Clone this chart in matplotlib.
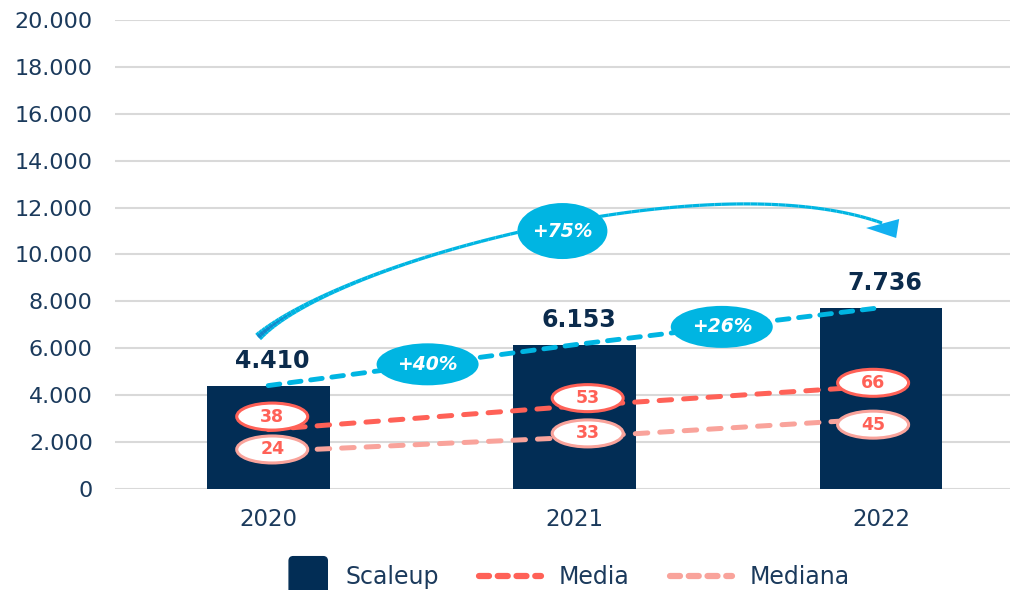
import numpy as np
import matplotlib
matplotlib.use('Agg')
import matplotlib.pyplot as plt
from matplotlib import transforms
from matplotlib.patches import Ellipse, Polygon, FancyBboxPatch, Rectangle
from matplotlib.collections import LineCollection
from matplotlib.lines import Line2D
from matplotlib.legend_handler import HandlerPatch

years = ['2020', '2021', '2022']
scaleup = [4410, 6153, 7736]
media = [38, 53, 66]
mediana = [24, 33, 45]
growth = ['+40%', '+26%']
growth_total = '+75%'
yticks = [0, 2000, 4000, 6000, 8000, 10000, 12000, 14000, 16000, 18000, 20000]

navy = '#022d55'
txt_navy = '#1b3a5c'
blue = '#00b5e2'
red = '#ff6157'
pink = '#f9a39b'

plt.rcParams['font.family'] = ['DejaVu Sans']

fig = plt.figure(figsize=(10.25, 5.9), dpi=100)
ax = fig.add_axes([0.1122, 0.1712, 0.873, 0.7949])
ax2 = ax.twinx()

x = np.arange(len(years))

ax.bar(x, scaleup, width=0.4, color=navy, zorder=2)
ax.set_ylim(0, 20000)
ax.set_xlim(-0.5, 2.42)
ax.set_yticks(yticks)
ax.set_yticklabels([f'{v:,}'.replace(',', '.') for v in yticks])
ax.set_xticks(x)
ax.set_xticklabels(years)
ax.tick_params(axis='y', length=0, pad=16, labelsize=16, labelcolor=txt_navy)
ax.tick_params(axis='x', length=0, pad=14, labelsize=16.5, labelcolor=txt_navy)
ax.grid(axis='y', color='#d9d9d9', lw=1.5, zorder=0)
ax.set_axisbelow(True)
for s in ax.spines.values():
    s.set_visible(False)
for s in ax2.spines.values():
    s.set_visible(False)
ax2.set_ylim(0, 300)
ax2.set_yticks([])

# value labels on bars
for xi, v in zip(x, scaleup):
    ax.annotate(f'{v:,}'.replace(',', '.'), (xi, v), xytext=(4, 25), textcoords='offset pixels',
                ha='center', va='center', fontsize=17, fontweight='bold', color='#0b2b4c', zorder=6)

# trend lines
ax.plot(x, scaleup, color=blue, lw=3.5, dashes=(2.4, 2.0), dash_capstyle='round', zorder=3)
ax2.plot(x, media, color=red, lw=3.6, dashes=(2.5, 2.4), dash_capstyle='round', zorder=3)
ax2.plot(x, mediana, color=pink, lw=3.6, dashes=(2.5, 2.4), dash_capstyle='round', zorder=3)


def bubble(axis, xv, yv, dx, dy, w, h, label, fc, ec, tc, fs, style='normal', lw=2.2):
    tr = fig.dpi_scale_trans + transforms.ScaledTranslation(xv, yv, axis.transData)
    e = Ellipse((dx / 100, dy / 100), w / 100, h / 100, transform=tr,
                fc=fc, ec=ec, lw=lw, zorder=4)
    axis.add_artist(e)
    axis.annotate(label, (xv, yv), xytext=(dx, dy), textcoords='offset pixels',
                  ha='center', va='center', fontsize=fs, fontweight='bold',
                  style=style, color=tc, zorder=5)


media_off = [(4, 13), (13, 8), (-8, 3)]
mediana_off = [(4, 2), (13, 4), (-8, -6)]
for xi, v, o in zip(x, media, media_off):
    bubble(ax2, xi, v, o[0], o[1], 71, 27, str(v), 'white', red, red, 12.5)
for xi, v, o in zip(x, mediana, mediana_off):
    bubble(ax2, xi, v, o[0], o[1], 71, 27, str(v), 'white', pink, red, 12.5)

# growth bubbles between years
for gx, g in zip([0.52, 1.48], growth):
    gy = np.interp(gx, x, scaleup)
    bubble(ax, gx, gy, 0, 0, 102, 42, g, blue, blue, 'white', 13.5, 'italic', lw=0)

# curved arrow 2020 -> 2022
P = np.array([[-0.033, 6482], [0.235, 9765], [1.442, 13945], [2.003, 11343]])
t = np.linspace(0, 1, 100)[:, None]
curve = ((1 - t) ** 3) * P[0] + 3 * ((1 - t) ** 2) * t * P[1] + 3 * (1 - t) * t ** 2 * P[2] + t ** 3 * P[3]
segs = np.stack([curve[:-1], curve[1:]], axis=1)
tt = np.linspace(0, 1, len(segs))
widths = 2.3 + 3.8 * np.exp(-tt * 9)
ax.add_collection(LineCollection(segs, linewidths=widths, colors=blue, capstyle='butt', zorder=3))
n0 = 10
ax.add_collection(LineCollection(segs[:n0], linewidths=np.linspace(2.8, 0.5, n0), colors='#1585c9',
                                 capstyle='butt', zorder=3))
ax.add_patch(Polygon([[1.951, 11130], [2.059, 11514], [2.049, 10704]], closed=True,
                     fc='#13b0f0', ec='none', zorder=3))
bubble(ax, 0.96, 11000, 0, 0, 90, 56, growth_total, blue, blue, 'white', 13.5, 'italic', lw=0)

ax.set_xlim(-0.5, 2.42)
ax.set_ylim(0, 20000)


def square_patch(legend, orig_handle, xdescent, ydescent, width, height, fontsize):
    s = 27.5
    return FancyBboxPatch((width - s - xdescent, height / 2 - s / 2 - ydescent), s, s,
                          boxstyle='round,pad=0,rounding_size=3')


sq = Rectangle((0, 0), 1, 1, color=navy)
handles = [
    sq,
    Line2D([], [], color=red, lw=4.5, dashes=(1.6, 1.4), dash_capstyle='round'),
    Line2D([], [], color=pink, lw=4.5, dashes=(1.6, 1.4), dash_capstyle='round'),
]
fig.legend(handles, ['Scaleup', 'Media', 'Mediana'], loc='center', bbox_to_anchor=(0.544, 0.022),
           ncol=3, frameon=False, fontsize=17, labelcolor=txt_navy, handlelength=2.63,
           handletextpad=0.76, columnspacing=1.7,
           handler_map={sq: HandlerPatch(patch_func=square_patch)})

fig.savefig('out.png', dpi=100)
